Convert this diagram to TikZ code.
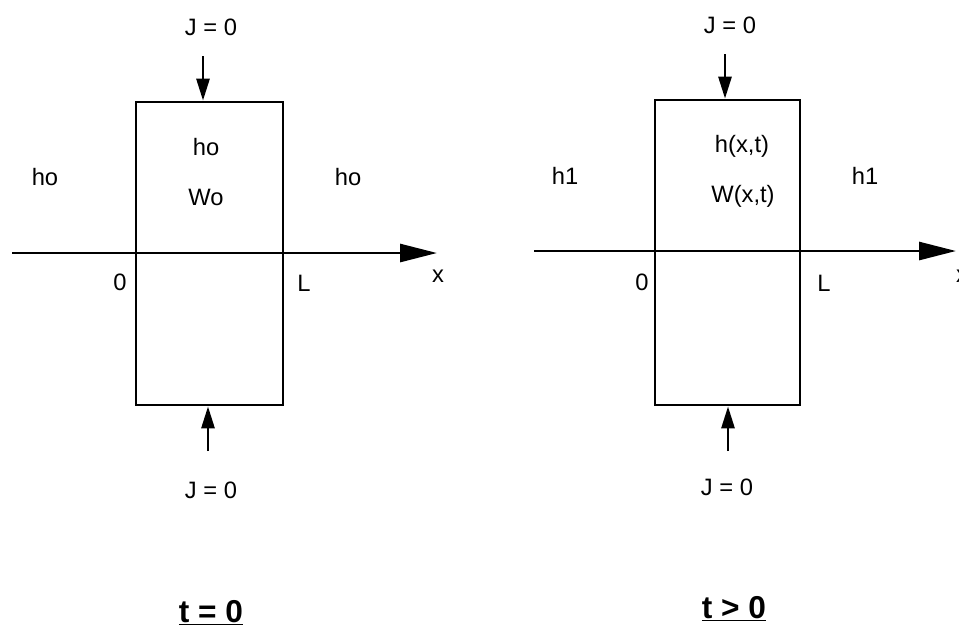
\documentclass[tikz,border=0pt]{standalone}
\usepackage{fontspec}
\setmainfont{Liberation Sans}
\usetikzlibrary{arrows.meta}

\begin{document}
\begin{tikzpicture}[
  x=0.02cm, y=-0.02cm,
  cell/.style = {rectangle, draw, line width=1.6pt, inner sep=0pt},
  lbl/.style = {font=\fontsize{13.5}{15}\selectfont, inner sep=1pt},
  title/.style = {font=\fontsize{18}{20}\selectfont\bfseries, inner sep=0pt, anchor=base},
  axis/.style = {-{Triangle[length=7.4mm, width=3.6mm]}, line width=1.6pt},
  flux/.style = {-{Triangle[length=4.4mm, width=2.6mm]}, line width=1.6pt}
]
  \useasboundingbox (0,0) rectangle (959,627);

  % t = 0
  \node[cell, minimum width=2.94cm, minimum height=6.06cm] (boxL) at (209.5,253.5) {};
  \coordinate (axLa) at (12,253);
  \coordinate (axLb) at (437,253);
  \draw[axis] (axLa) -- (axLb);
  \node[lbl] (xL) at (438,276) {x};
  \node[lbl] (zeroL) at (120,282) {0};
  \node[lbl] (endL) at (304,283) {L};
  \node[lbl] (hoa) at (45,177) {ho};
  \node[lbl] (hob) at (348,177) {ho};
  \node[lbl] (hoin) at (206,147) {ho};
  \node[lbl] (woin) at (206,197) {Wo};
  \node[lbl] (jtopL) at (211,27) {J = 0};
  \node[lbl] (jbotL) at (211,490) {J = 0};
  \coordinate (ftL) at (203,56);
  \coordinate (fbL) at (208,451);
  \draw[flux] (ftL) -- (ftL |- boxL.north);
  \draw[flux] (fbL) -- (fbL |- boxL.south);
  \node[title] (tzero) at (211,622) {\underline{t = 0}};

  % t > 0
  \node[cell, minimum width=2.90cm, minimum height=6.10cm] (boxR) at (727.5,252.5) {};
  \coordinate (axRa) at (534,251);
  \coordinate (axRb) at (956,251);
  \draw[axis] (axRa) -- (axRb);
  \node[lbl] (xR) at (962,276) {x};
  \node[lbl] (zeroR) at (642,282) {0};
  \node[lbl] (endR) at (824,283) {L};
  \node[lbl] (hia) at (565,176) {h1};
  \node[lbl] (hib) at (865,176) {h1};
  \node[lbl] (hin) at (742,146) {h(x,t)};
  \node[lbl] (win) at (743,196) {W(x,t)};
  \node[lbl] (jtopR) at (730,25) {J = 0};
  \node[lbl] (jbotR) at (727,487) {J = 0};
  \coordinate (ftR) at (725,54);
  \coordinate (fbR) at (728,451);
  \draw[flux] (ftR) -- (ftR |- boxR.north);
  \draw[flux] (fbR) -- (fbR |- boxR.south);
  \node[title] (tpos) at (734,618) {\underline{t > 0}};
\end{tikzpicture}
\end{document}
